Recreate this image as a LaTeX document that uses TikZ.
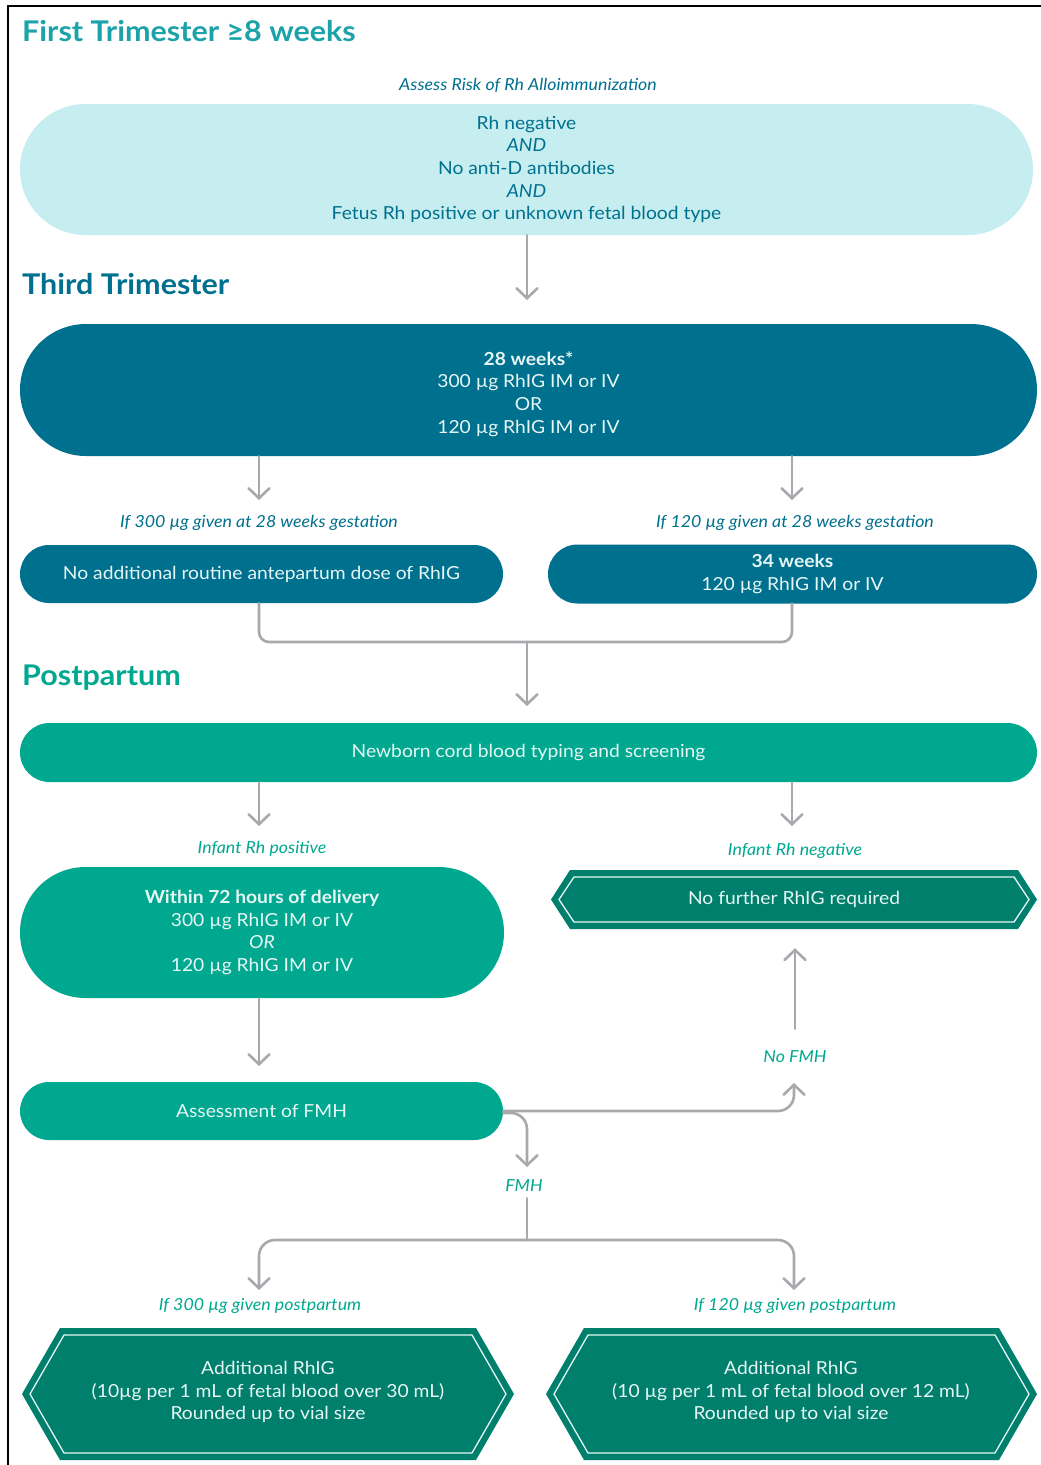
\documentclass[tikz,border=0pt]{standalone}
\usepackage{fontspec}
\setmainfont{Lato}[FakeStretch=1.07]
\usetikzlibrary{arrows.meta,shapes.misc}

\definecolor{tealhead}{HTML}{1BA3A9}
\definecolor{bluedark}{HTML}{00708F}
\definecolor{lightfill}{HTML}{C6EEF0}
\definecolor{greenmid}{HTML}{00A88F}
\definecolor{greendark}{HTML}{007F6D}
\definecolor{connector}{HTML}{A7A9AC}
\definecolor{paletext}{HTML}{E6F6F4}

% hexagonal box: x-left tip, x-right tip, y-top, y-bottom, horizontal inset of the corners
\newcommand\hexagonbox[5]{%
  \fill[greendark] (#1,{(#3+#4)/2}) -- (#1+#5,#3) -- (#2-#5,#3) -- (#2,{(#3+#4)/2})
    -- (#2-#5,#4) -- (#1+#5,#4) -- cycle;
  \draw[paletext, line width=1.3pt, line join=miter]
    (#1+8,{(#3+#4)/2}) -- (#1+#5+4,#3+7) -- (#2-#5-4,#3+7) -- (#2-8,{(#3+#4)/2})
    -- (#2-#5-4,#4-7) -- (#1+#5+4,#4-7) -- cycle;}

\begin{document}
\begin{tikzpicture}[x=1pt,y=-1pt,
  heading/.style={anchor=west, inner sep=0pt, font=\fontsize{28.5}{31}\selectfont\bfseries},
  body/.style={align=center, inner sep=0pt, font=\fontsize{18}{22.7}\selectfont},
  pill/.style={rounded rectangle, body},
  lightpill/.style={pill, fill=lightfill, text=bluedark},
  bluepill/.style={pill, fill=bluedark, text=paletext},
  greenpill/.style={pill, fill=greenmid, text=paletext},
  hextext/.style={body, text=paletext},
  note/.style={inner sep=0pt, font=\fontsize{16.6}{19}\selectfont\itshape},
  conn/.style={draw=connector, line width=2.6pt, line cap=round, line join=round},
  arr/.style={conn, -{Straight Barb[length=10pt,width=21pt,line cap=round]}},
]
\useasboundingbox (0,0) rectangle (1041,1465);
\fill[white] (0,0) rectangle (1041,1465);
\draw[black, line width=2pt] (8,1466) -- (8,6) -- (1042,6);

% ---------- First trimester ----------
\node[heading, text=tealhead] (h1) at (22,31) {First Trimester ≥8 weeks};
\node[note, text=bluedark] (assess) at (528,85) {Assess Risk of Rh Alloimmunization};
\node[lightpill, minimum width=1013pt, minimum height=131pt] (risk) at (526.5,169.5)
  {Rh negative\\ \textit{AND}\\ No anti-D antibodies\\ \textit{AND}\\ Fetus Rh positive or unknown fetal blood type};

% ---------- Third trimester ----------
\node[heading, text=bluedark] (h2) at (22,284) {Third Trimester};
\node[bluepill, minimum width=1017pt, minimum height=132pt] (dose28) at (528.5,390) {};
\node[body, text=paletext] (dose28text) at (528.5,394)
  {\textbf{28 weeks*}\\ 300 µg RhIG IM or IV\\ OR\\ 120 µg RhIG IM or IV};

\node[note, text=bluedark] (if300) at (259,523) {If 300 µg given at 28 weeks gestation};
\node[note, text=bluedark] (if120) at (795,523) {If 120 µg given at 28 weeks gestation};

\node[bluepill, minimum width=483pt, minimum height=58pt] (noadd) at (261.5,574)
  {No additional routine antepartum dose of RhIG};
\node[bluepill, minimum width=489pt, minimum height=59pt] (w34) at (792.5,574)
  {\textbf{34 weeks}\\ 120 µg RhIG IM or IV};

% ---------- Postpartum ----------
\node[heading, text=greenmid] (h3) at (22,678) {Postpartum};
\node[greenpill, minimum width=1017pt, minimum height=59pt] (cord) at (528.5,752.5)
  {Newborn cord blood typing and screening};

\node[note, text=greenmid] (rhpos) at (262,849) {Infant Rh positive};
\node[note, text=greenmid] (rhneg) at (795,851) {Infant Rh negative};

\node[greenpill, minimum width=484pt, minimum height=131pt] (within) at (262,932.5)
  {\textbf{Within 72 hours of delivery}\\ 300 µg RhIG IM or IV\\ \textit{OR}\\ 120 µg RhIG IM or IV};

\hexagonbox{551}{1037}{870}{929}{19}
\node[hextext, minimum width=486pt, minimum height=59pt] (nofurther) at (794,899.5)
  {No further RhIG required};

\node[greenpill, minimum width=483pt, minimum height=58pt] (fmhcheck) at (261.5,1111)
  {Assessment of FMH};

\node[note, text=greenmid] (nofmh) at (795,1057) {No FMH};
\node[note, text=greenmid, inner sep=6pt] (fmh) at (524,1186) {FMH};

\node[note, text=greenmid] (pp300) at (260,1306) {If 300 µg given postpartum};
\node[note, text=greenmid] (pp120) at (795,1306) {If 120 µg given postpartum};

\hexagonbox{22}{514}{1328}{1460}{38}
\node[hextext, minimum width=492pt, minimum height=132pt] (extra30) at (268,1392)
  {Additional RhIG\\ (10µg per 1 mL of fetal blood over 30 mL)\\ Rounded up to vial size};
\hexagonbox{546}{1037}{1328}{1460}{38}
\node[hextext, minimum width=491pt, minimum height=132pt] (extra12) at (791,1392)
  {Additional RhIG\\ (10 µg per 1 mL of fetal blood over 12 mL)\\ Rounded up to vial size};

% ---------- arrow end points ----------
\coordinate (tipRisk) at (527,300);
\coordinate (tipL1) at (259,500);
\coordinate (tipR1) at (792,500);
\coordinate (merge) at (527,642);
\coordinate (tipCord) at (527,706);
\coordinate (tipL2) at (259,826);
\coordinate (tipR2) at (792,826);
\coordinate (tipWithin) at (259,1066);
\coordinate (tipNoFMH) at (794,1083);
\coordinate (tipFMH) at (527,1167);
\coordinate (split) at (527,1240);
\coordinate (tipL3) at (259,1290);
\coordinate (tipR3) at (794,1290);

% ---------- connectors ----------
\draw[arr] (risk.south -| tipRisk) -- (tipRisk);
\draw[arr] (dose28.south -| tipL1) -- (tipL1);
\draw[arr] (dose28.south -| tipR1) -- (tipR1);
\draw[conn, rounded corners=10pt] (noadd.south -| tipL1) |- (merge) -| (w34.south -| tipR1);
\draw[arr] (merge) -- (tipCord);
\draw[arr] (cord.south -| tipL2) -- (tipL2);
\draw[arr] (cord.south -| tipR2) -- (tipR2);
\draw[arr] (within.south -| tipWithin) -- (tipWithin);
\draw[arr, rounded corners=16pt] (fmhcheck.east) -| (tipNoFMH);
\draw[arr, rounded corners=16pt] ([yshift=-2pt]fmhcheck.east) -| (tipFMH);
\draw[arr, shorten <=22pt, shorten >=19pt] (nofmh.north) -- (nofmh.north |- nofurther.south);
\draw[conn] (fmh.south -| split) -- (split);
\draw[arr, rounded corners=16pt] (split) -| (tipL3);
\draw[arr, rounded corners=16pt] (split) -| (tipR3);
\end{tikzpicture}
\end{document}
